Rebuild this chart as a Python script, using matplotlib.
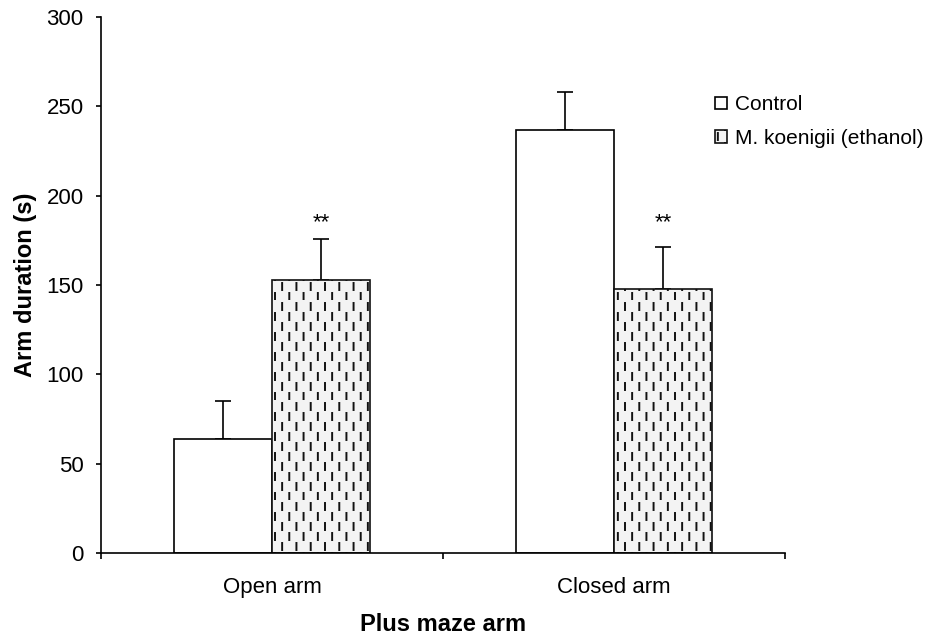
import numpy as np
import matplotlib
matplotlib.use('Agg')
import matplotlib.pyplot as plt
import matplotlib.hatch as mhatch
from matplotlib.path import Path

# данные
categories = ['Open arm', 'Closed arm']
groups = ['Control', 'M. koenigii (ethanol)']
control = [64, 237]
control_err = [21, 21]
ethanol = [153, 148]
ethanol_err = [23, 23]
stars = ['**', '**']


# штриховка из коротких вертикальных черточек (замена стандартной '|')
class DashedVertical(mhatch.HatchPatternBase):
    def __init__(self, hatch, density):
        self.ncols = 14
        self.nrows = 5
        self.num_vertices = self.ncols * self.nrows * 2 if '|' in hatch else 0

    def set_vertices_and_codes(self, vertices, codes):
        k = 0
        for i in range(self.ncols):
            x = (i + 0.5) / self.ncols
            off = 0.5 / self.nrows if i % 2 else 0.0
            for j in range(self.nrows):
                y0 = j / self.nrows + off
                vertices[k] = (x, y0)
                vertices[k + 1] = (x, y0 + 0.07)
                codes[k] = Path.MOVETO
                codes[k + 1] = Path.LINETO
                k += 2


mhatch._hatch_types = [DashedVertical if t is mhatch.VerticalHatch else t
                       for t in mhatch._hatch_types]

plt.rcParams['font.family'] = ['Liberation Sans', 'DejaVu Sans']
plt.rcParams['hatch.linewidth'] = 1.4

fig = plt.figure(figsize=(9.32, 6.39), dpi=100)
ax = fig.add_axes([0.1084, 0.1346, 0.734, 0.8388])

x = np.arange(len(categories))
w = 0.287

ax.bar(x - w / 2, control, w, color='white', edgecolor='black', linewidth=1.2,
       label=groups[0], zorder=2)
ax.bar(x + w / 2, ethanol, w, color='#f3f3f3', edgecolor='#111111', linewidth=1.2,
       hatch='|', label=groups[1], zorder=2)

ax.errorbar(x - w / 2, control, yerr=[np.zeros(len(x)), control_err], fmt='none',
            ecolor='black', elinewidth=1.2, capsize=6, capthick=1.2, zorder=1)
ax.errorbar(x + w / 2, ethanol, yerr=[np.zeros(len(x)), ethanol_err], fmt='none',
            ecolor='black', elinewidth=1.2, capsize=6, capthick=1.2, zorder=1)

star_y = max(np.array(ethanol) + np.array(ethanol_err)) + 6
for xi, s in zip(x, stars):
    ax.text(xi + w / 2, star_y, s, ha='center', va='baseline', fontsize=16)

ax.set_xlim(-0.5, 1.5)
ax.set_ylim(0, 300)
ax.set_yticks(np.arange(0, 301, 50))
ax.set_xticks([-0.5, 0.5, 1.5])
ax.set_xticklabels([])
ax.set_xticks(x, minor=True)
ax.set_xticklabels(categories, minor=True)
ax.tick_params(axis='x', which='minor', length=0, pad=17, labelsize=16)
ax.tick_params(axis='x', which='major', length=4, width=1.2, direction='out')
ax.tick_params(axis='y', length=3.5, width=1.2, labelsize=16, pad=9)

for side in ['top', 'right']:
    ax.spines[side].set_visible(False)
for side in ['left', 'bottom']:
    ax.spines[side].set_linewidth(1.2)

ax.set_ylabel('Arm duration (s)', fontsize=17, fontweight='bold', labelpad=7)
ax.set_xlabel('Plus maze arm', fontsize=17, fontweight='bold', labelpad=11)

ax.legend(loc='upper left', bbox_to_anchor=(0.898, 0.854), frameon=False,
          fontsize=15, handlelength=0.55, handleheight=0.55, handletextpad=0.4,
          labelspacing=0.69, borderpad=0, borderaxespad=0)

fig.savefig('out.png', dpi=100)
